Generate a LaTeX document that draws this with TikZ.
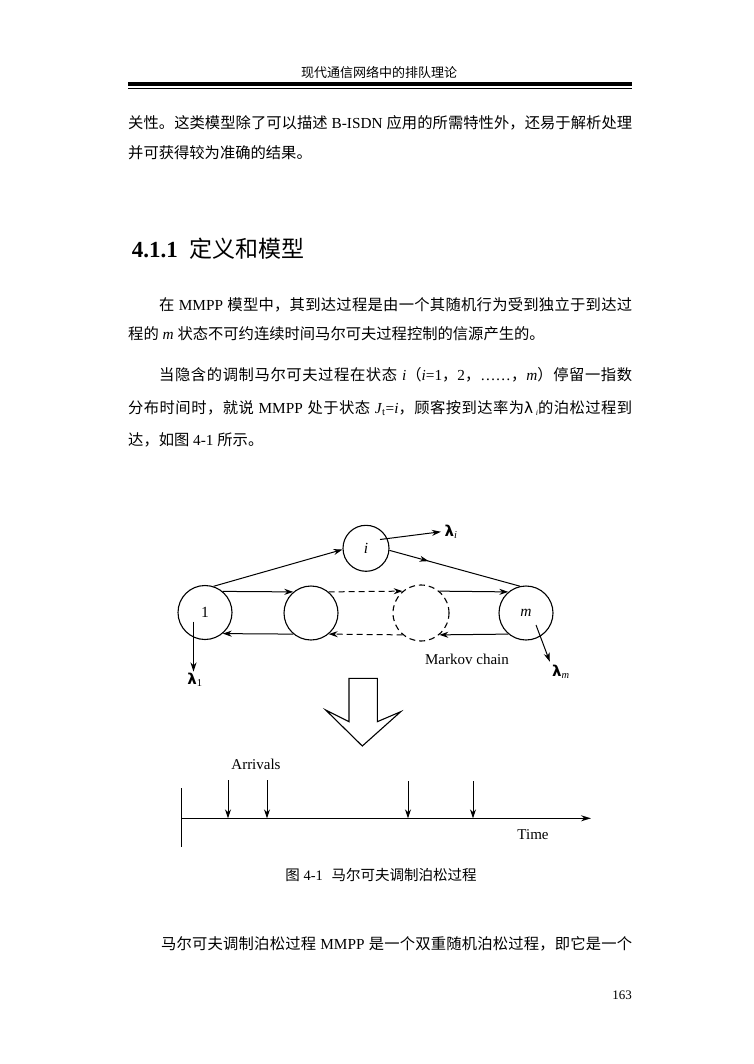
\documentclass[tikz,border=0pt]{standalone}
\usepackage{fontspec}
\setmainfont{Liberation Serif}
\newfontfamily\cjk{Noto Sans CJK SC}
\newfontfamily\dejavu{DejaVu Sans}
\usetikzlibrary{arrows.meta,decorations.markings}
\chardef\mycjkclass=200
\makeatletter
\count@="3000
\loop \XeTeXcharclass\count@=\mycjkclass \ifnum\count@<"303F \advance\count@\@ne \repeat
\count@="4E00
\loop \XeTeXcharclass\count@=\mycjkclass \ifnum\count@<"9FFF \advance\count@\@ne \repeat
\count@="FF00
\loop \XeTeXcharclass\count@=\mycjkclass \ifnum\count@<"FFEF \advance\count@\@ne \repeat
\makeatother
\XeTeXinterchartoks\mycjkclass\mycjkclass={\hskip 0pt plus 1pt minus 0.3pt\relax}
\newcommand\jline[2]{\makebox[#1][s]{\XeTeXinterchartokenstate=1 #2}}
\tikzset{
  txt/.style={inner sep=0pt, anchor=base west},
  body/.style={txt, font=\fontsize{15.3}{18}\selectfont},
  hdr/.style={inner sep=0pt, anchor=base, font=\fontsize{13}{15}\selectfont},
  sectitle/.style={txt, font=\fontsize{23}{26}\selectfont},
  captxt/.style={inner sep=0pt, anchor=base, font=\fontsize{14.5}{17}\selectfont},
  pgnum/.style={inner sep=0pt, anchor=base east, font=\fontsize{13}{15}\selectfont},
  lbl/.style={inner sep=1.5pt, font=\fontsize{15}{17}\selectfont},
  state/.style={circle, draw, line width=1.1pt, minimum size=54pt, inner sep=0pt, font=\fontsize{15.5}{17}\selectfont},
  dcircle/.style={dash pattern=on 6pt off 4pt},
  arr/.style={-{Stealth[length=9pt,width=6pt]}, line width=1pt},
  darr/.style={arr, dash pattern=on 6pt off 4pt},
}
\begin{document}
\begin{tikzpicture}[x=1pt,y=-1pt]
\fill[white] (0,0) rectangle (753,1064);
\useasboundingbox (0,0) rectangle (753,1064);
% header
\node[hdr] (hdr) at (379,77.6) {\cjk 现代通信网络中的排队理论};
\draw[line width=4pt] (128,84) -- (632,84);
\draw[line width=1pt] (128,88.7) -- (632,88.7);
% text
\node[body] (l1) at (128,128.3) {\jline{504pt}{{\cjk 关性。这类模型除了可以描述} B-ISDN {\cjk 应用的所需特性外，还易于解析处理}}};
\node[body] (l2) at (128,158.3) {\cjk 并可获得较为准确的结果。};
\node[sectitle] (sec) at (131.7,258) {\bfseries 4.1.1\hspace{12pt}{\cjk\mdseries 定义和模型}};
\node[body] (l3) at (159,310.8) {\jline{473pt}{{\cjk 在} MMPP {\cjk 模型中，其到达过程是由一个其随机行为受到独立于到达过}}};
\node[body] (l4) at (128,339.8) {{\cjk 程的} \textit{m} {\cjk 状态不可约连续时间马尔可夫过程控制的信源产生的。}};
\node[body] (l5) at (159,380.8) {\jline{473pt}{{\cjk 当隐含的调制马尔可夫过程在状态} \textit{i}{\cjk （}\textit{i}=1{\cjk ，}2{\cjk ，}……{\cjk ，}\textit{m}{\cjk ）停留一指数}}};
\node[body] (l6) at (128,413.8) {\jline{504pt}{{\cjk 分布时间时，就说} MMPP {\cjk 处于状态} \textit{J}\textsubscript{t}=\textit{i}{\cjk ，顾客按到达率为}{\dejavu λ}\,\raisebox{-2pt}{\footnotesize\textit{i}}{\cjk 的泊松过程到}}};
\node[body] (l7) at (128,445.8) {{\cjk 达，如图} 4-1 {\cjk 所示。}};
% diagram
\node[state] (c1) at (205,612.5) {1};
\node[state] (c2) at (311,613) {};
\node[state, dcircle, minimum size=56pt] (c3) at (421,613) {};
\node[state] (cm) at (526,613) {\textit{m}};
\node[state, minimum size=46pt] (ci) at (366,548.3) {\textit{i}};
\draw[arr] (c1.72) -- (ci.183);
\draw[line width=1pt, postaction={decorate}, decoration={markings, mark=at position 0.3 with {\arrow{Stealth[length=9pt,width=6pt]}}}] (ci.-5) -- (cm.103);
\draw[arr] (c1.50) -- (c2.130);
\draw[darr] (c2.50) -- (c3.130);
\draw[arr] (c3.50) -- (cm.130);
\draw[arr] (c2.-130) -- (c1.-50);
\draw[darr] (c3.-130) -- (c2.-50);
\draw[arr] (cm.-130) -- (c3.-50);
\coordinate (li0) at (380,539.5);
\node[lbl] (lami) at (451,531.5) {{\dejavu\bfseries λ}\textsubscript{\textit{i}}};
\draw[arr, shorten >=2pt] (li0) -- (lami.west);
\coordinate (l10) at (193.5,621.5);
\node[lbl] (lam1) at (195,680) {{\dejavu\bfseries λ}\textsubscript{1}};
\draw[arr] (l10) -- (l10 |- lam1.north);
\coordinate (lm0) at (536,625);
\node[lbl] (lamm) at (561,672) {{\dejavu\bfseries λ}\textsubscript{\textit{m}}};
\draw[arr, shorten >=2pt] (lm0) -- (lamm.north west);
\node[lbl] (mk) at (467,659.5) {Markov chain};
% hollow arrow
\draw[line width=1.1pt, line join=miter] (349,678.3) -- (377.3,678.3) -- (377.3,721.7) -- (400.7,711.7) -- (362.3,746) -- (325.7,710) -- (349,721.7) -- cycle;
% time axis
\coordinate (vt) at (181,788);
\coordinate (vb) at (181,847);
\coordinate (ax0) at (181,818.3);
\coordinate (ax1) at (591,818.3);
\draw[line width=1pt] (vt) -- (vb);
\draw[line width=1.4pt, -{Stealth[length=10pt,width=6pt]}] (ax0) -- (ax1);
\coordinate (a1) at (228,780);
\coordinate (a2) at (267,780);
\coordinate (a3) at (408,781);
\coordinate (a4) at (473,781);
\foreach \a in {a1,a2,a3,a4} { \draw[arr] (\a) -- (\a |- ax0); }
\node[lbl] (arv) at (256,764.3) {Arrivals};
\node[lbl] (tim) at (533,834.3) {Time};
% caption and rest
\node[captxt] (cap) at (381,880.5) {{\cjk 图} 4-1\hspace{0.6em}{\cjk 马尔可夫调制泊松过程}};
\node[body] (l8) at (161,949.8) {\jline{471pt}{{\cjk 马尔可夫调制泊松过程} MMPP {\cjk 是一个双重随机泊松过程，即它是一个}}};
\node[pgnum] (pg) at (632,999.3) {163};
\end{tikzpicture}
\end{document}
